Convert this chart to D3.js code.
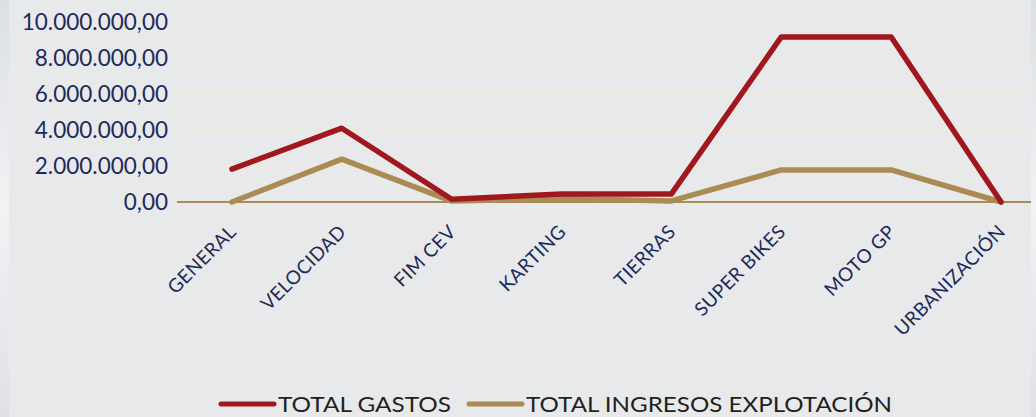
<!DOCTYPE html>
<html>
<head>
<meta charset="utf-8">
<script src="https://cdn.jsdelivr.net/npm/d3@7"></script>
<style>
  html, body { margin: 0; padding: 0; background: #e8e9eb; }
  svg { display: block; }
</style>
</head>
<body>
<div id="chart"></div>
<script>
// categories along the x axis
const categories = ['GENERAL', 'VELOCIDAD', 'FIM CEV', 'KARTING', 'TIERRAS', 'SUPER BIKES', 'MOTO GP', 'URBANIZACIÓN'];

// series values (euros)
const totalGastos   = [1830000, 4100000, 150000, 450000, 450000, 9170000, 9170000, 0];
const totalIngresos = [0, 2380000, 50000, 200000, 60000, 1780000, 1780000, 0];

const seriesNames = ['TOTAL GASTOS', 'TOTAL INGRESOS EXPLOTACIÓN'];
const yTicks = [0, 2000000, 4000000, 6000000, 8000000, 10000000];

const width = 1036;
const height = 417;
const plotTop = 22, plotBottom = 202;
const plotLeft = 177, plotRight = 1056;   // plot runs past the visible edge, gets clipped
const navy = '#1c2b5a';
const red = '#a0181d';
const gold = '#a98b53';

const es = d3.formatLocale({decimal: ',', thousands: '.', grouping: [3], currency: ['', '€']});
const fmt = es.format(',.2f');

const svg = d3.select('#chart').append('svg')
    .attr('width', width)
    .attr('height', height);

// background + the textured strips on both edges
svg.append('rect').attr('width', width).attr('height', height).attr('fill', '#e8e9eb');
const defs = svg.append('defs');
const grad = defs.append('linearGradient').attr('id', 'edge').attr('x1', 0).attr('x2', 0).attr('y1', 0).attr('y2', 1);
grad.append('stop').attr('offset', '0%').attr('stop-color', '#dcdfe3');
grad.append('stop').attr('offset', '50%').attr('stop-color', '#f1f2f4');
grad.append('stop').attr('offset', '100%').attr('stop-color', '#dfe1e5');
svg.append('rect').attr('x', 0).attr('y', 0).attr('width', 9).attr('height', height).attr('fill', 'url(#edge)');
svg.append('rect').attr('x', 1031).attr('y', 0).attr('width', 5).attr('height', height).attr('fill', 'url(#edge)');

defs.append('clipPath').attr('id', 'plotClip')
    .append('rect').attr('x', 0).attr('y', 0).attr('width', 1031).attr('height', height);

const x = d3.scalePoint()
    .domain(categories)
    .range([plotLeft, plotRight])
    .padding(0.5);

const y = d3.scaleLinear()
    .domain([0, 10000000])
    .range([plotBottom, plotTop]);

const plot = svg.append('g').attr('clip-path', 'url(#plotClip)');

// gridlines
plot.append('g')
    .selectAll('line')
    .data(yTicks.filter(d => d > 0))
    .enter()
        .append('line')
            .attr('x1', plotLeft)
            .attr('x2', plotRight)
            .attr('y1', d => y(d))
            .attr('y2', d => y(d))
            .attr('stroke', '#f3e9d6')
            .attr('stroke-width', 1.3);

// y axis labels
const yAxis = svg.append('g')
    .attr('transform', `translate(${plotLeft - 9}, 0)`)
    .call(d3.axisLeft(y).tickValues(yTicks).tickFormat(fmt).tickSize(0).tickPadding(0));
yAxis.select('.domain').remove();
yAxis.selectAll('text')
    .attr('fill', navy)
    .attr('font-family', 'Lato, "Open Sans", sans-serif')
    .attr('font-size', 22.5)
    .attr('dy', '0.35em');

// zero axis line
plot.append('line')
    .attr('x1', plotLeft)
    .attr('x2', plotRight)
    .attr('y1', y(0))
    .attr('y2', y(0))
    .attr('stroke', gold)
    .attr('stroke-width', 2);

// category labels, rotated
const xAxis = svg.append('g')
    .attr('transform', `translate(0, ${plotBottom})`)
    .call(d3.axisBottom(x).tickSize(0).tickPadding(0));
xAxis.select('.domain').remove();
xAxis.selectAll('text')
    .attr('fill', navy)
    .attr('font-family', 'Lato, "Open Sans", sans-serif')
    .attr('font-size', 19)
    .attr('letter-spacing', 0.4)
    .attr('text-anchor', 'end')
    .attr('dy', null)
    .attr('transform', 'translate(5, 31) rotate(-45)');

const line = d3.line()
    .x((d, i) => x(categories[i]))
    .y(d => y(d));

const series = [
    {name: seriesNames[0], values: totalGastos, color: red},
    {name: seriesNames[1], values: totalIngresos, color: gold}
];

plot.selectAll('path.series')
    .data(series.slice().reverse())
    .enter()
        .append('path')
            .attr('class', 'series')
            .attr('d', d => line(d.values))
            .attr('fill', 'none')
            .attr('stroke', d => d.color)
            .attr('stroke-width', 5.5)
            .attr('stroke-linejoin', 'round')
            .attr('stroke-linecap', 'round');

// legend
const legendItems = [
    {name: seriesNames[0], color: red, x0: 221, textLen: 173},
    {name: seriesNames[1], color: gold, x0: 469, textLen: 366}
];
const legend = svg.append('g').attr('transform', 'translate(0, 404)');
legendItems.forEach(item => {
    legend.append('line')
        .attr('x1', item.x0)
        .attr('x2', item.x0 + 53)
        .attr('y1', 0)
        .attr('y2', 0)
        .attr('stroke', item.color)
        .attr('stroke-width', 5)
        .attr('stroke-linecap', 'round');
    legend.append('text')
        .attr('x', item.x0 + 57)
        .attr('y', 7.5)
        .attr('fill', '#231f20')
        .attr('font-family', 'Lato, "Open Sans", sans-serif')
        .attr('font-size', 22)
        .attr('textLength', item.textLen)
        .attr('lengthAdjust', 'spacingAndGlyphs')
        .text(item.name);
});
</script>
</body>
</html>
